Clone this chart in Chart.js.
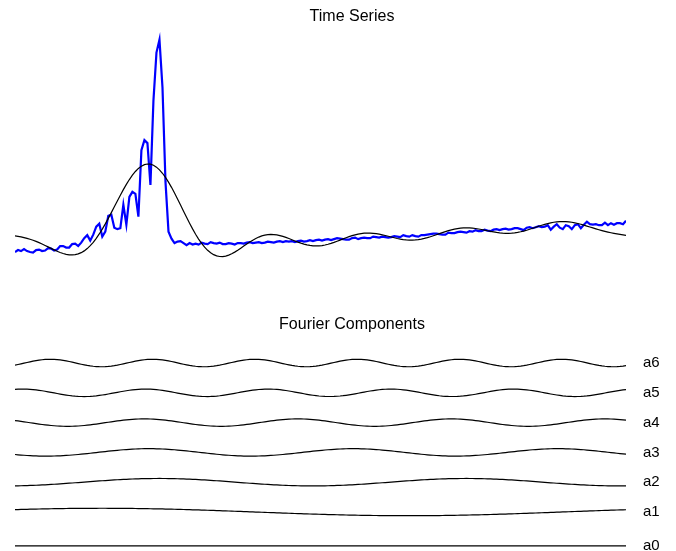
<!DOCTYPE html>
<html>
<head>
<meta charset="utf-8">
<title>Time Series</title>
<script src="https://cdn.jsdelivr.net/npm/chart.js@4.4.0/dist/chart.umd.min.js"></script>
<style>
  body { margin: 0; background: #fff; overflow: hidden; }
  canvas { position: absolute; left: 0; }
  #tsChart { top: 0; }
  #fcChart { top: 300px; }
</style>
</head>
<body>
<canvas id="tsChart" width="704" height="300"></canvas>
<canvas id="fcChart" width="704" height="277"></canvas>
<script>
// observed series, one value per sample
const series = [
  0.45, 0.65, 0.55, 0.75, 0.55, 0.45, 0.40, 0.65, 0.70, 0.55, 0.60, 0.85, 0.80, 0.60, 0.70,
  1.05, 1.05, 0.90, 0.90, 1.25, 1.30, 1.05, 1.40, 1.85, 2.15, 1.60, 2.20, 3.00, 3.30, 2.00,
  2.50, 4.10, 4.20, 2.90, 2.75, 2.85, 5.20, 3.20, 6.00, 6.50, 6.30, 4.00, 10.70, 11.70, 11.40,
  7.20, 15.70, 20.50, 21.80, 17.00, 7.50, 2.50, 1.80, 1.35, 1.50, 1.55, 1.35, 1.15, 1.35, 1.20,
  1.30, 1.20, 1.40, 1.30, 1.25, 1.45, 1.35, 1.30, 1.40, 1.25, 1.25, 1.35, 1.30, 1.20, 1.35,
  1.35, 1.30, 1.40, 1.45, 1.35, 1.40, 1.45, 1.35, 1.40, 1.50, 1.45, 1.40, 1.50, 1.55, 1.45,
  1.55, 1.50, 1.55, 1.45, 1.55, 1.60, 1.50, 1.55, 1.65, 1.55, 1.65, 1.70, 1.60, 1.70, 1.75,
  1.65, 1.75, 1.85, 1.80, 1.75, 1.70, 1.70, 1.85, 1.90, 1.75, 1.85, 1.90, 1.85, 1.85, 2.00,
  1.95, 1.90, 2.00, 1.95, 1.90, 1.95, 2.05, 2.00, 1.95, 2.15, 2.05, 2.00, 2.15, 2.05, 2.00,
  2.15, 2.15, 2.20, 2.25, 2.30, 2.30, 2.25, 2.20, 2.20, 2.40, 2.35, 2.35, 2.45, 2.50, 2.45,
  2.40, 2.55, 2.50, 2.65, 2.55, 2.55, 2.70, 2.60, 2.55, 2.70, 2.75, 2.65, 2.75, 2.80, 2.70,
  2.75, 2.85, 2.85, 2.75, 2.65, 2.90, 2.95, 2.85, 2.95, 3.05, 2.95, 3.00, 3.15, 2.70, 3.00,
  3.25, 2.90, 2.75, 3.15, 3.05, 2.75, 3.15, 3.25, 2.85, 3.20, 3.50, 3.25, 3.20, 3.25, 3.15,
  3.15, 3.40, 3.15, 3.35, 3.20, 3.35, 3.35, 3.25, 3.60
];
const harmonics = [0, 1, 2, 3, 4, 5, 6];
const compNames = ['a0', 'a1', 'a2', 'a3', 'a4', 'a5', 'a6'];
const rowLevel = [-0.14, 1, 2, 3, 4, 5, 6];

Chart.defaults.font.family = '"Liberation Sans", Arial, sans-serif';
Chart.defaults.color = '#000';

const N = series.length;
const idx = series.map((v, t) => t);

// discrete Fourier coefficients up to the 6th harmonic
const coefs = harmonics.map(k => {
  let a = 0, b = 0;
  series.forEach((v, t) => {
    a += v * Math.cos(2 * Math.PI * k * t / N);
    b += v * Math.sin(2 * Math.PI * k * t / N);
  });
  const s = k === 0 ? 1 / N : 2 / N;
  return { k: k, a: a * s, b: b * s };
});

function term(c, t){
  return c.a * Math.cos(2 * Math.PI * c.k * t / N) + c.b * Math.sin(2 * Math.PI * c.k * t / N);
}

const fitted = idx.map(t => coefs.reduce((s, c) => s + term(c, t), 0));

// right-hand gutter keeps the plot 15..626 and the titles centred on 352
const gutter = {
  display: true,
  position: 'right',
  grid: { display: false, drawTicks: false },
  border: { display: false },
  afterFit: (axis) => { axis.width = 63; }
};

new Chart(document.getElementById('tsChart'), {
  type: 'line',
  data: {
    datasets: [
      {
        data: idx.map(t => ({ x: t, y: fitted[t] })),
        borderColor: '#000000',
        borderWidth: 1.2,
        pointRadius: 0,
        order: 1
      },
      {
        data: idx.map(t => ({ x: t, y: series[t] })),
        borderColor: '#0000ff',
        borderWidth: 2.2,
        pointRadius: 0,
        order: 2
      }
    ]
  },
  options: {
    responsive: false,
    animation: false,
    layout: { padding: { left: 15, right: 15, top: 0, bottom: 0 } },
    plugins: {
      legend: { display: false },
      tooltip: { enabled: false },
      title: {
        display: true,
        text: 'Time Series',
        font: { size: 16, weight: 'normal' },
        padding: { top: 7.4, bottom: 3 }
      }
    },
    scales: {
      x: { type: 'linear', min: 0, max: N - 1, display: false },
      y: Object.assign({}, gutter, { min: -4.37, max: 22.81, ticks: { display: false, padding: 0 } })
    }
  }
});

const compSets = harmonics.map(k => {
  const c = coefs[k];
  const amp = Math.hypot(c.a, c.b);
  return {
    data: idx.map(t => ({
      x: t,
      y: rowLevel[k] + (k === 0 ? 0 : 0.125 * term(c, t) / amp)
    })),
    borderColor: '#000000',
    borderWidth: 1.2,
    pointRadius: 0
  };
});

new Chart(document.getElementById('fcChart'), {
  type: 'line',
  data: { datasets: compSets },
  options: {
    responsive: false,
    animation: false,
    layout: { padding: { left: 15, right: 15, top: 0, bottom: 0 } },
    plugins: {
      legend: { display: false },
      tooltip: { enabled: false },
      title: {
        display: true,
        text: 'Fourier Components',
        font: { size: 16, weight: 'normal' },
        padding: { top: 15.4, bottom: 6 }
      }
    },
    scales: {
      x: { type: 'linear', min: 0, max: N - 1, display: false },
      y: Object.assign({}, gutter, {
        min: -0.309,
        max: 6.752,
        afterBuildTicks: (axis) => { axis.ticks = rowLevel.map(v => ({ value: v })); },
        ticks: {
          padding: 17,
          font: { size: 15 },
          callback: (value, i) => compNames[i]
        }
      })
    }
  }
});
</script>
</body>
</html>
